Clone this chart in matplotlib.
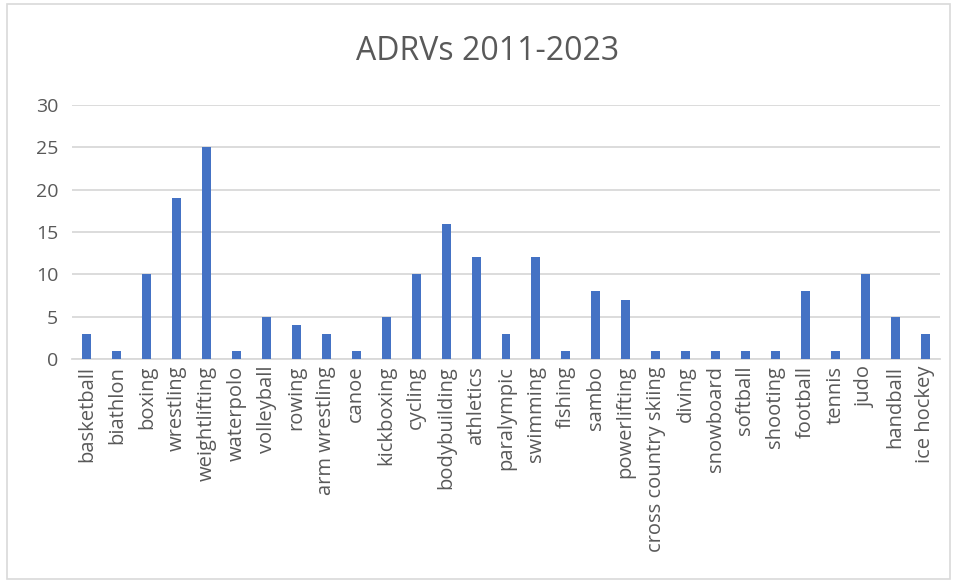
import matplotlib.pyplot as plt
from matplotlib.patches import Rectangle

sports = ['basketball', 'biathlon', 'boxing', 'wrestling', 'weightlifting', 'waterpolo',
          'volleyball', 'rowing', 'arm wrestling', 'canoe', 'kickboxing', 'cycling',
          'bodybuilding', 'athletics', 'paralympic', 'swimming', 'fishing', 'sambo',
          'powerlifting', 'cross country skiing', 'diving', 'snowboard', 'softball',
          'shooting', 'football', 'tennis', 'judo', 'handball', 'ice hockey']
adrvs = [3, 1, 10, 19, 25, 1, 5, 4, 3, 1, 5, 10, 16, 12, 3, 12, 1, 8, 7, 1, 1, 1, 1, 1,
         8, 1, 10, 5, 3]
yticks = [0, 5, 10, 15, 20, 25, 30]

plt.rcParams['font.family'] = ['Open Sans', 'DejaVu Sans']

fig = plt.figure(figsize=(9.56, 5.8), dpi=100)
ax = fig.add_axes([72/956, 1 - 359/580, 868/956, 254/580])

# chart border
fig.patches.append(Rectangle((7/956, 1/580), 943/956, 575/580, transform=fig.transFigure,
                             fill=False, edgecolor='#d9d9d9', linewidth=1.2))

x = range(len(sports))
ax.bar(x, adrvs, width=0.3, color='#4472c4', zorder=3)

ax.set_xlim(-0.5, len(sports) - 0.5)
ax.set_ylim(0, 30)
ax.set_yticks(yticks)
ax.set_xticks(list(x))
ax.set_xticklabels(sports, rotation=90, fontsize=14.5, color='#595959')
ax.tick_params(axis='y', labelsize=14, labelcolor='#595959', length=0, pad=10)
ax.tick_params(axis='x', length=0, pad=5)
ax.grid(axis='y', color='#d9d9d9', linewidth=1.3, zorder=0)
for s in ['top', 'right', 'left']:
    ax.spines[s].set_visible(False)
ax.spines['bottom'].set_color('#d9d9d9')
ax.spines['bottom'].set_linewidth(1.3)

fig.text(488/956, 1 - 51/580, 'ADRVs 2011-2023', ha='center', va='center',
         fontsize=23, color='#595959')

fig.savefig('out.png', dpi=100)
